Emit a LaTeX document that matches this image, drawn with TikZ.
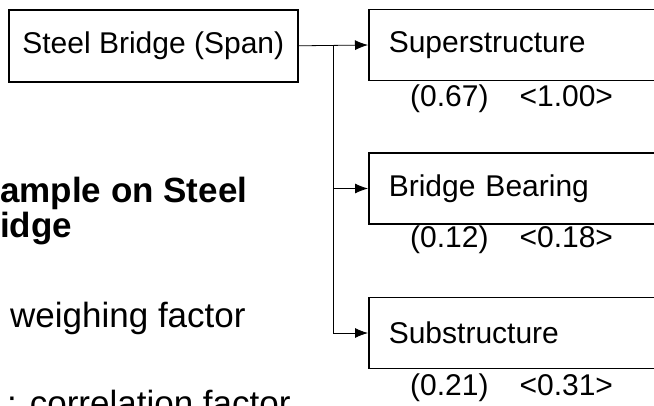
\documentclass[tikz,border=0pt]{standalone}
\usepackage{fontspec}
\setmainfont{Liberation Sans}
\usetikzlibrary{positioning,arrows.meta}
\tikzset{
>={Latex[length=13pt,width=10pt]},
root/.style={ rectangle, draw=black, line width=1.6pt, minimum width=289pt, minimum height=72pt, inner sep=0pt, font=\fontsize{30}{36}\selectfont},
part/.style={ rectangle, draw=black, line width=1.6pt, text width=276pt, inner xsep=20pt, inner ysep=0pt, minimum height=71pt, align=left, font=\fontsize{30}{36}\selectfont},
factor/.style={ inner sep=0pt, font=\fontsize{30}{36}\selectfont},
title/.style={ anchor=base west, inner sep=0pt, font=\fontsize{35}{42}\selectfont\bfseries},
legend/.style={ anchor=base west, inner sep=0pt, font=\fontsize{35}{42}\selectfont},
line/.style={draw, line width=0.8pt, ->},
merge/.style={draw, line width=0.8pt, -},
}

\begin{document}
\begin{tikzpicture}
[x=1pt, y=-1pt]

\useasboundingbox (0,0) rectangle (654,405);
\clip (0,0) rectangle (654,405);

\node[root, anchor=north west] (span) at (8,9) {Steel Bridge (Span)};

\node[part, anchor=west] (sup) at (368,45) {Superstructure};
\node[part, anchor=west] (bear) at (368,188.5) {Bridge Bearing};
\node[part, anchor=west] (sub) at (368,333) {Substructure};

\node[factor, below right=25pt and 42pt of sup.south west, anchor=base west] (f_sup) {(0.67)\hspace{31pt}<1.00>};
\node[factor, below right=23pt and 42pt of bear.south west, anchor=base west] (f_bear) {(0.12)\hspace{31pt}<0.18>};
\node[factor, below right=26pt and 42pt of sub.south west, anchor=base west] (f_sub) {(0.21)\hspace{31pt}<0.31>};

\coordinate (fork) at (333,45);

\path [line] (span.east) -- (sup.west);
\path [line] (fork |- bear.west) -- (bear.west);
\path [line] (fork) |- (sub.west);

\node[title] (title_a) at (0,202) {ample on Steel};
\node[title] (title_b) at (0,237) {idge};

\node[legend] (weigh) at (10,327) {weighing factor};
\node[legend] (corr) at (7,415) {: correlation factor};

\end{tikzpicture}
\end{document}
